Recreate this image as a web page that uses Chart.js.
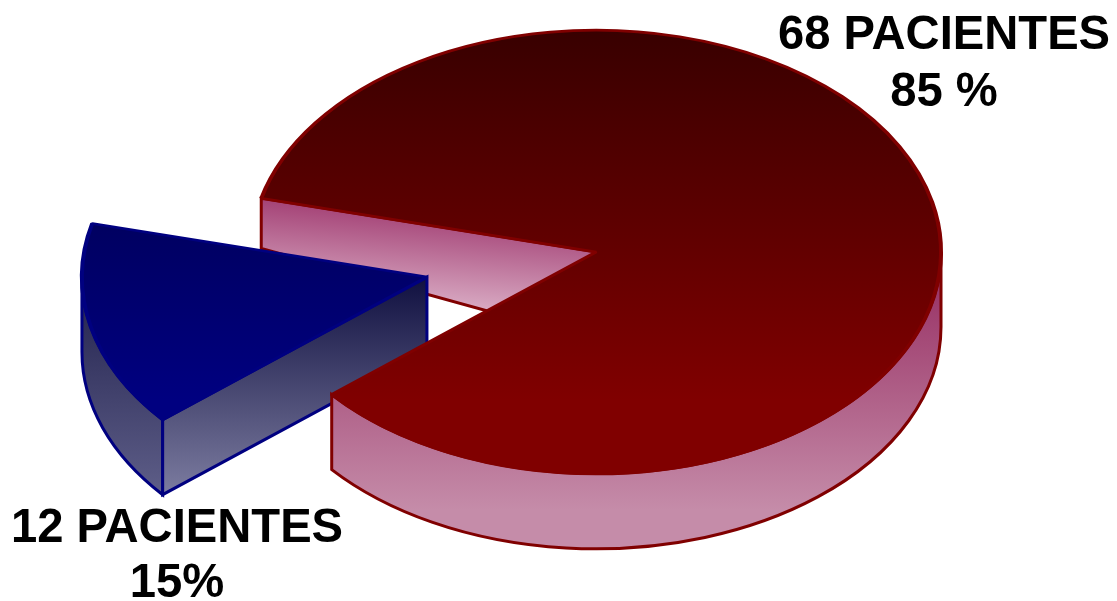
<!DOCTYPE html>
<html>
<head>
<meta charset="utf-8">
<style>
  html, body { margin: 0; padding: 0; background: #fff; }
  canvas { display: block; }
</style>
<script src="https://cdn.jsdelivr.net/npm/chart.js@4"></script>
</head>
<body>
<canvas id="pieChart" width="1117" height="601"></canvas>
<script>
const categories = ["12 PACIENTES", "68 PACIENTES"];
const patients = [12, 68];
const percentLabels = ["15%", "85 %"];
const pulledOut = [173.5, 0];

// look of the fake 3D pie
const squash = 0.643;
const pieCenterY = 252;
const pieRadius = 345;
const sideDepth = 75;
const wallDepthOuter = 50;
const wallDepthInner = 89;

const canvas = document.getElementById("pieChart");
const ctx = canvas.getContext("2d");
const chartMidY = canvas.height / 2;

// screen y -> y inside the squashed drawing
const innerY = (y) => chartMidY + (y - pieCenterY) / squash;

const gradient = (x0, y0, x1, y1, from, to) => {
  const g = ctx.createLinearGradient(x0, y0, x1, y1);
  g.addColorStop(0, from);
  g.addColorStop(1, to);
  return g;
};

const redTop = gradient(0, innerY(30), 0, innerY(400), "#380000", "#800000");
const blueTop = gradient(0, innerY(220), 0, innerY(400), "#000060", "#000080");

const pie3d = {
  id: "pie3d",
  afterDatasetsUpdate(chart) {
    chart.getDatasetMeta(0).data.forEach((arc, i) => {
      const mid = (arc.startAngle + arc.endAngle) / 2;
      arc.x += Math.cos(mid) * pulledOut[i];
      arc.y += Math.sin(mid) * pulledOut[i];
    });
  },
  beforeDatasetsDraw(chart) {
    const c = chart.ctx;
    const [blue, red] = chart.getDatasetMeta(0).data;
    const screenY = (y) => pieCenterY + (y - chartMidY) * squash;

    const band = (arc, a0, a1, fill, stroke) => {
      const x = arc.x;
      const y = screenY(arc.y);
      const r = arc.outerRadius;
      c.beginPath();
      c.ellipse(x, y, r, r * squash, 0, a0, a1, false);
      c.ellipse(x, y + sideDepth, r, r * squash, 0, a1, a0, true);
      c.closePath();
      c.fillStyle = fill;
      c.fill();
      c.strokeStyle = stroke;
      c.lineWidth = 3;
      c.stroke();
    };

    // cut face at the back of the big slice
    const rx = red.x;
    const ry = screenY(red.y);
    const cornerX = rx + Math.cos(red.startAngle) * red.outerRadius;
    const cornerY = ry + Math.sin(red.startAngle) * red.outerRadius * squash;
    c.beginPath();
    c.moveTo(cornerX, cornerY);
    c.lineTo(cornerX, cornerY + wallDepthOuter);
    c.lineTo(rx, ry + wallDepthInner);
    c.lineTo(rx, ry);
    c.closePath();
    c.fillStyle = gradient(300, 195, 290, 310, "#a03a70", "#e2bdd1");
    c.fill();
    c.strokeStyle = "#800000";
    c.lineWidth = 3;
    c.stroke();

    // pulled slice: round side, then its cut face
    const bx = blue.x;
    const by = screenY(blue.y);
    const frontX = bx + Math.cos(blue.startAngle) * blue.outerRadius;
    const frontY = by + Math.sin(blue.startAngle) * blue.outerRadius * squash;
    band(blue, blue.startAngle, Math.PI,
      gradient(0, by, 0, frontY + sideDepth, "#20204c", "#5e5e88"), "#000080");
    c.beginPath();
    c.moveTo(bx, by);
    c.lineTo(frontX, frontY);
    c.lineTo(frontX, frontY + sideDepth);
    c.lineTo(bx, by + sideDepth);
    c.closePath();
    c.fillStyle = gradient(0, by, 0, frontY + sideDepth, "#101040", "#7c7ca0");
    c.fill();
    c.strokeStyle = "#000080";
    c.lineWidth = 3;
    c.stroke();

    // round side of the big slice
    band(red, 0, red.endAngle - 2 * Math.PI,
      gradient(0, 280, 0, 510, "#993366", "#c58ca9"), "#800000");

    // the slices themselves get drawn flattened by the library
    c.save();
    c.translate(0, pieCenterY);
    c.scale(1, squash);
    c.translate(0, -chartMidY);
  },
  afterDatasetsDraw(chart) {
    chart.ctx.restore();
  },
  afterDraw(chart) {
    const c = chart.ctx;
    c.save();
    c.font = 'bold 47.2px "Liberation Sans", Arial, sans-serif';
    c.fillStyle = "#000";
    c.textAlign = "center";
    c.textBaseline = "alphabetic";
    c.fillText(categories[1], 944, 49);
    c.fillText(percentLabels[1], 944, 106);
    c.fillText(categories[0], 177, 542);
    c.fillText(percentLabels[0], 177, 597);
    c.restore();
  },
};

new Chart(ctx, {
  type: "pie",
  data: {
    labels: categories,
    datasets: [
      {
        data: patients,
        backgroundColor: [blueTop, redTop],
        borderColor: ["#000080", "#800000"],
        borderWidth: 4,
      },
    ],
  },
  options: {
    responsive: false,
    animation: false,
    events: [],
    rotation: 230,
    radius: pieRadius,
    layout: {
      padding: { left: 75 },
    },
    plugins: {
      legend: { display: false },
      tooltip: { enabled: false },
    },
  },
  plugins: [pie3d],
});
</script>
</body>
</html>
